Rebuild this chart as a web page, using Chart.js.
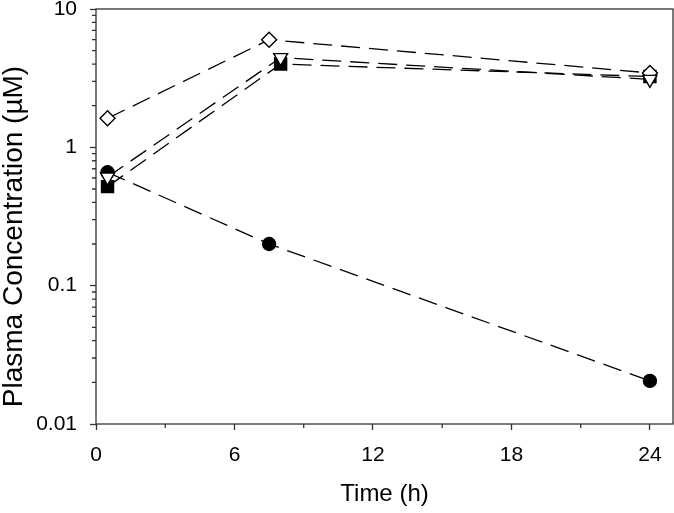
<!DOCTYPE html>
<html>
<head>
<meta charset="utf-8">
<script src="https://cdn.jsdelivr.net/npm/chart.js@4/dist/chart.umd.min.js"></script>
<style>
  html, body { margin: 0; padding: 0; background: #fff; overflow: hidden; }
  #wrap { width: 674px; height: 513px; }
</style>
</head>
<body>
<div id="wrap"><canvas id="pk"></canvas></div>
<script>
// Plasma concentration vs time, four groups
const diamondPts  = [{x: 0.5, y: 1.62}, {x: 7.5, y: 6.0},  {x: 24, y: 3.45}];
const trianglePts = [{x: 0.5, y: 0.61}, {x: 8,   y: 4.45}, {x: 24, y: 3.1}];
const squarePts   = [{x: 0.5, y: 0.52}, {x: 8,   y: 4.0},  {x: 24, y: 3.25}];
const circlePts   = [{x: 0.5, y: 0.66}, {x: 7.5, y: 0.2},  {x: 24, y: 0.0205}];

const xTickValues = [0, 6, 12, 18, 24];
const xMinorTicks = [3, 9, 15, 21];
const yTickValues = [0.01, 0.1, 1, 10];
const yTickLabels = ['0.01', '0.1', '1', '10'];
const yTitle = 'Plasma Concentration (µM)';

const axisColor = '#333';
const fontFamily = "'Liberation Sans', Arial, sans-serif";

// frame, minor tick marks and the y title
const framePlugin = {
    id: 'frame',
    afterDraw: function(chart) {
        const ctx = chart.ctx;
        const a = chart.chartArea;
        const xs = chart.scales.x;
        const ys = chart.scales.y;
        ctx.save();
        ctx.strokeStyle = axisColor;
        ctx.lineWidth = 1.3;
        ctx.strokeRect(a.left, a.top, a.right - a.left, a.bottom - a.top);
        ctx.beginPath();
        xMinorTicks.forEach(function(v) {
            const px = xs.getPixelForValue(v);
            ctx.moveTo(px, a.bottom);
            ctx.lineTo(px, a.bottom + 4);
        });
        for (let d = 0.01; d < 10; d *= 10) {
            for (let k = 2; k <= 9; k++) {
                const py = ys.getPixelForValue(k * d);
                ctx.moveTo(a.left - 4, py);
                ctx.lineTo(a.left, py);
            }
        }
        ctx.stroke();

        // y axis title, placed a bit below the plot centre like the original
        ctx.translate(14, (a.top + a.bottom) / 2 + 20);
        ctx.rotate(-Math.PI / 2);
        ctx.fillStyle = '#000';
        ctx.font = '28px ' + fontFamily;
        ctx.textAlign = 'center';
        ctx.textBaseline = 'middle';
        ctx.fillText(yTitle, 0, 0);
        ctx.restore();
    }
};

function series(pts, style, fill, radius, rotation, order) {
    return {
        data: pts,
        borderColor: '#000',
        borderWidth: 1.3,
        borderDash: [19, 9],
        pointStyle: style,
        pointRadius: radius,
        pointRotation: rotation,
        pointBackgroundColor: fill,
        pointBorderColor: '#000',
        pointBorderWidth: 1.4,
        fill: false,
        tension: 0,
        order: order
    };
}

new Chart(document.getElementById('pk').getContext('2d'), {
    type: 'line',
    data: {
        datasets: [
            series(trianglePts, 'triangle', '#fff', 8, 180, 0),
            series(diamondPts, 'rectRot', '#fff', 7.5, 0, 1),
            series(squarePts, 'rect', '#000', 8.5, 0, 2),
            series(circlePts, 'circle', '#000', 6.5, 0, 3)
        ]
    },
    options: {
        responsive: true,
        maintainAspectRatio: false,
        animation: false,
        layout: {
            autoPadding: false,
            padding: { top: 9, right: 1, left: 0, bottom: 0 }
        },
        plugins: {
            legend: { display: false },
            tooltip: { enabled: false }
        },
        scales: {
            x: {
                type: 'linear',
                min: 0,
                max: 25,
                afterBuildTicks: function(scale) {
                    scale.ticks = xTickValues.map(function(v) { return { value: v }; });
                },
                afterFit: function(scale) {
                    scale.height = 89;
                    scale.paddingLeft = 0;
                    scale.paddingRight = 0;
                },
                grid: {
                    drawOnChartArea: false,
                    tickLength: 6,
                    tickColor: axisColor,
                    tickWidth: 1.3
                },
                border: { display: false },
                ticks: {
                    color: '#000',
                    padding: 13,
                    maxRotation: 0,
                    font: { family: fontFamily, size: 21 }
                },
                title: {
                    display: true,
                    text: 'Time (h)',
                    color: '#000',
                    padding: { top: 4, bottom: 4 },
                    font: { family: fontFamily, size: 24 }
                }
            },
            y: {
                type: 'logarithmic',
                min: 0.01,
                max: 10,
                afterBuildTicks: function(scale) {
                    scale.ticks = yTickValues.map(function(v) { return { value: v, major: true }; });
                },
                afterFit: function(scale) {
                    scale.width = 96;
                    scale.paddingTop = 0;
                    scale.paddingBottom = 0;
                },
                grid: {
                    drawOnChartArea: false,
                    tickLength: 6,
                    tickColor: axisColor,
                    tickWidth: 1.3
                },
                border: { display: false },
                ticks: {
                    color: '#000',
                    padding: 13,
                    font: { family: fontFamily, size: 21 },
                    callback: function(value) {
                        const i = yTickValues.indexOf(value);
                        return i >= 0 ? yTickLabels[i] : '';
                    }
                },
                title: { display: false }
            }
        }
    },
    plugins: [framePlugin]
});
</script>
</body>
</html>
